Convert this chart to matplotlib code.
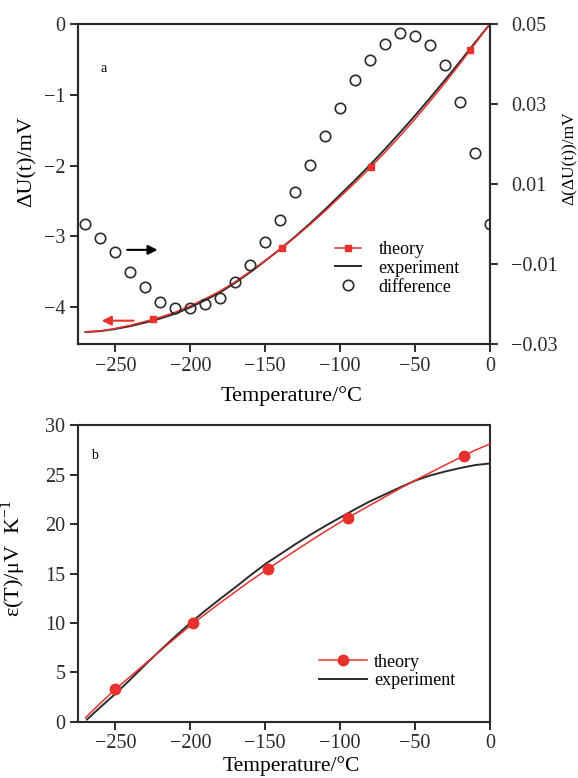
"""
plot.py
Thermocouple comparison: theory vs experiment (panel a: dU, panel b: Seebeck)
"""

import matplotlib

matplotlib.use("Agg")
import matplotlib.pyplot as plt

# ============================================================
# Data
# ============================================================

# panel a: difference points (right axis), every 10 degC
diff_t = [-270, -260, -250, -240, -230, -220, -210, -200, -190, -180,
          -170, -160, -150, -140, -130, -120, -110, -100, -90, -80,
          -70, -60, -50, -40, -30, -20, -10, 0]
diff_v = [0.0000, -0.0034, -0.0071, -0.0121, -0.0157, -0.0194, -0.0211,
          -0.0211, -0.0200, -0.0186, -0.0144, -0.0102, -0.0045, 0.0010,
          0.0081, 0.0148, 0.0219, 0.0289, 0.0360, 0.0411, 0.0450, 0.0477,
          0.0471, 0.0448, 0.0398, 0.0304, 0.0178, 0.0000]

# panel a: theory curve (red), marker positions are included in the list
theory_a_t = [-270, -260, -250, -240, -230, -224.7, -220, -210, -200, -190,
              -180, -170, -160, -150, -140, -139, -130, -120, -110, -100,
              -90, -80, -79.6, -70, -60, -50, -40, -30, -20, -13.3, -10, 0]
theory_a_u = [-4.35, -4.335, -4.30, -4.255, -4.20, -4.17, -4.14, -4.07,
              -3.98, -3.88, -3.77, -3.64, -3.495, -3.34, -3.18, -3.165,
              -3.01, -2.83, -2.64, -2.44, -2.24, -2.03, -2.02, -1.81, -1.58,
              -1.34, -1.09, -0.83, -0.56, -0.37, -0.28, 0.0]
theory_a_marks = [-224.7, -139, -79.6, -13.3]

# panel a: experiment curve (black)
exp_a_t = [-270, -260, -250, -240, -230, -220, -210, -200, -190, -180,
           -170, -160, -150, -140, -130, -120, -110, -100, -90, -80,
           -70, -60, -50, -40, -30, -20, -10, 0]
exp_a_u = [-4.35, -4.338, -4.307, -4.267, -4.216, -4.159, -4.091, -4.001,
           -3.900, -3.789, -3.654, -3.505, -3.345, -3.179, -3.002, -2.815,
           -2.618, -2.411, -2.204, -1.989, -1.765, -1.532, -1.293, -1.045,
           -0.790, -0.530, -0.262, 0.0]

# panel b: theory Seebeck coefficient (red), markers included
theory_b_t = [-270, -260, -250, -240, -230, -220, -210, -200, -198, -190,
              -180, -170, -160, -150, -148.4, -140, -130, -120, -110, -100,
              -95, -90, -80, -70, -60, -50, -40, -30, -20, -17.6, -10, 0]
theory_b_e = [0.43, 1.9, 3.32, 4.6, 5.9, 7.2, 8.48, 9.73, 9.97, 10.9,
              12.05, 13.15, 14.25, 15.28, 15.45, 16.3, 17.3, 18.28, 19.24,
              20.17, 20.64, 21.05, 21.9, 22.75, 23.6, 24.4, 25.18, 25.95,
              26.7, 26.9, 27.45, 28.09]
theory_b_marks = [-250, -198, -148.4, -95, -17.6]

# panel b: experiment (black)
exp_b_t = [-269, -260, -250, -240, -230, -220, -210, -200, -190, -180,
           -170, -160, -150, -140, -130, -120, -110, -100, -90, -80,
           -70, -60, -50, -40, -30, -20, -10, 0]
exp_b_e = [0.25, 1.5, 2.85, 4.3, 5.8, 7.25, 8.65, 10.0, 11.25, 12.45,
           13.6, 14.8, 15.95, 16.95, 17.95, 18.9, 19.8, 20.65, 21.5, 22.3,
           23.0, 23.7, 24.38, 24.9, 25.3, 25.65, 25.95, 26.12]

x_ticks = [-250, -200, -150, -100, -50, 0]
ya_ticks = [0, -1, -2, -3, -4]
ya_right_ticks = [0.05, 0.03, 0.01, -0.01, -0.03]
yb_ticks = [0, 5, 10, 15, 20, 25, 30]

RED = "#e8302c"
DARK = "#2b2b2b"

plt.rcParams["font.family"] = ["Liberation Serif", "DejaVu Serif"]
plt.rcParams["mathtext.fontset"] = "custom"
plt.rcParams["mathtext.rm"] = "Liberation Serif"
plt.rcParams["axes.linewidth"] = 1.5
plt.rcParams["axes.edgecolor"] = DARK


def style_axis(ax, pad=3):
    """Outward ticks, serif labels."""
    ax.tick_params(direction="out", length=6, width=1.4, labelsize=14.5,
                   colors=DARK, pad=pad)


def mark_index(ts, marks):
    return [ts.index(m) for m in marks]


fig = plt.figure(figsize=(5.78, 7.78), dpi=100)

# ---------------- panel a ----------------
ax1 = fig.add_axes([0.1349, 0.5578, 0.7128, 0.4113])
ax1.plot(exp_a_t, exp_a_u, color=DARK, lw=1.4, label="experiment", zorder=3)
ax1.plot(theory_a_t, theory_a_u, color=RED, lw=1.1, marker="s",
         markersize=5, markevery=mark_index(theory_a_t, theory_a_marks),
         label="theory", zorder=4)
ax1.set_xlim(-275, 0)
ax1.set_ylim(-4.52, 0)
ax1.set_xticks(x_ticks)
ax1.set_yticks(ya_ticks)
ax1.set_xlabel("Temperature/°C", fontsize=16)
ax1.set_ylabel("ΔU(t)/mV", fontsize=16)
ax1.xaxis.set_label_coords(0.519, -0.133)
ax1.yaxis.set_label_coords(-0.100, 0.569)
style_axis(ax1)
ax1.text(-257.6, -0.63, "a", fontsize=10, ha="center", va="center")

ax2 = ax1.twinx()
ax2.plot(diff_t, diff_v, ls="none", marker="o", markersize=7.5,
         markerfacecolor="none", markeredgecolor=DARK, markeredgewidth=1.2,
         label="difference", zorder=2)
ax2.set_ylim(-0.03, 0.05)
ax2.set_yticks(ya_right_ticks)
ax2.set_ylabel("Δ(ΔU(t))/mV", fontsize=12.5)
ax2.yaxis.set_label_coords(1.175, 0.581)
style_axis(ax2, pad=9)

ax1.annotate("", xy=(-220, -3.19), xytext=(-244, -3.19),
             arrowprops=dict(arrowstyle="-|>", color="black", lw=1.5,
                             mutation_scale=14))
ax1.annotate("", xy=(-261, -4.19), xytext=(-236, -4.19),
             arrowprops=dict(arrowstyle="-|>", color=RED, lw=1.5,
                             mutation_scale=14))

h1, l1 = ax1.get_legend_handles_labels()
h2, l2 = ax2.get_legend_handles_labels()
order = [1, 0]
ax1.legend([h1[i] for i in order] + h2, [l1[i] for i in order] + l2,
           loc="upper left", bbox_to_anchor=(0.585, 0.373), frameon=False,
           fontsize=13, handlelength=1.4, handletextpad=1.0,
           labelspacing=0.1, numpoints=1)

# ---------------- panel b ----------------
ax3 = fig.add_axes([0.1349, 0.0720, 0.7128, 0.3817])
ax3.plot(exp_b_t, exp_b_e, color=DARK, lw=1.4, label="experiment", zorder=3)
ax3.plot(theory_b_t, theory_b_e, color=RED, lw=1.1, marker="o",
         markersize=7.5, markevery=mark_index(theory_b_t, theory_b_marks),
         label="theory", zorder=4)
ax3.set_xlim(-275, 0)
ax3.set_ylim(0, 30)
ax3.set_xticks(x_ticks)
ax3.set_yticks(yb_ticks)
ax3.set_xlabel("Temperature/°C", fontsize=15.5)
ax3.set_ylabel("ε(T)/μV  K$^{\\mathregular{-1}}$", fontsize=16)
ax3.xaxis.set_label_coords(0.519, -0.116)
ax3.yaxis.set_label_coords(-0.121, 0.55)
style_axis(ax3)
ax3.text(-264, 26.9, "b", fontsize=10, ha="center", va="center")

h3, l3 = ax3.get_legend_handles_labels()
ax3.legend([h3[1], h3[0]], [l3[1], l3[0]], loc="upper left",
           bbox_to_anchor=(0.545, 0.285), frameon=False, fontsize=13,
           handlelength=2.65, handletextpad=0.4, labelspacing=0.1,
           numpoints=1)

fig.savefig("out.png", dpi=100)
plt.close(fig)
